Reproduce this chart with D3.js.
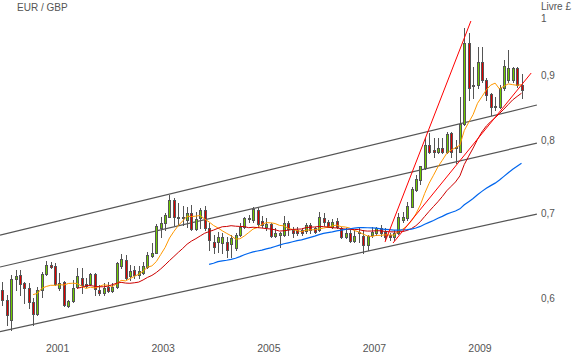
<!DOCTYPE html>
<html><head><meta charset="utf-8">
<script src="https://cdn.jsdelivr.net/npm/d3@7/dist/d3.min.js"></script>
<style>
body{margin:0;background:#fff}
svg{display:block}
text{font-family:"Liberation Sans",Arial,sans-serif;fill:#555}
</style>
</head><body>
<svg id="chart" width="582" height="357"></svg>
<script>
// Monthly EUR/GBP candles, Jan 2000 .. Nov 2009 (119 months)
const opens = [
.6088,.5978,.5763,.6211,.6257,.6166,.6110,.5956,.5827,.6088,.6268,.6372,
.6360,.6110,.6177,.5913,.5967,.6121,.6223,.6155,.6155,.6268,.6088,.6055,
.6121,.6077,.6121,.6360,.6430,.6245,.6314,.6257,.6283,.6352,.6477,.6516,
.6817,.6883,.6959,.7174,.6955,.6943,.6917,.7002,.6801,.6939,.7044,.6813,
.6649,.6649,.6629,.6649,.6617,.6569,.6730,.6833,.6943,.6917,.7044,.6905,
.6830,.6867,.6718,.6730,.6730,.6879,.6792,.6792,.6792,.6784,.6855,.6821,
.6792,.6939,.6896,.6833,.6905,.6813,.6702,.6751,.6661,.6751,.6718,.6609,
.6730,.6751,.6813,.6771,.6730,.6709,.6751,.6917,.6939,.7087,.7306,.7441,
.7601,.7931,.7859,.7827,.7884,.7835,.8103,.7907,.7835,.8242,.9554,.8849,
.8849,.9228,.8930,.8705,.8517,.8501,.8801,.8930,.8930,.9128,.8849];
const highs = [
.6177,.6033,.6257,.6314,.6314,.6177,.6166,.6000,.6121,.6291,.6419,.6407,
.6395,.6280,.6190,.5978,.6200,.6337,.6337,.6223,.6280,.6280,.6144,.6166,
.6177,.6166,.6407,.6500,.6489,.6372,.6360,.6360,.6407,.6525,.6633,.6867,
.6959,.7006,.7240,.7200,.7131,.7096,.7087,.7110,.7022,.7074,.7096,.6879,
.6730,.6771,.6751,.6709,.6730,.6751,.6875,.6959,.6985,.7087,.7066,.6968,
.6943,.6883,.6817,.6771,.6968,.6908,.6833,.6833,.6817,.6883,.6883,.6833,
.7022,.7002,.6917,.6930,.6943,.6833,.6817,.6792,.6792,.6833,.6792,.6730,
.6833,.6833,.6855,.6817,.6759,.6792,.7002,.7022,.7151,.7351,.7509,.7633,
.8029,.8103,.8029,.8029,.8029,.8126,.8126,.8004,.8657,.9819,.9730,.9145,
.9485,.9485,.8962,.8721,.8657,.8849,.9262,.9433,.9145,.9145,.9029];
const lows = [
.5924,.5711,.5659,.6088,.6033,.5946,.5892,.5711,.5817,.6011,.6257,.6337,
.6144,.6088,.5913,.5903,.5956,.6110,.6055,.6121,.6144,.6033,.6033,.6033,
.6066,.6066,.6110,.6337,.6211,.6200,.6223,.6223,.6268,.6337,.6466,.6513,
.6709,.6792,.6951,.6855,.6855,.6855,.6833,.6792,.6792,.6817,.6792,.6548,
.6513,.6528,.6509,.6470,.6470,.6548,.6722,.6813,.6896,.6896,.6833,.6830,
.6792,.6709,.6705,.6588,.6718,.6730,.6709,.6730,.6730,.6755,.6755,.6755,
.6784,.6855,.6826,.6817,.6817,.6690,.6690,.6649,.6649,.6649,.6516,.6548,
.6709,.6730,.6718,.6669,.6669,.6669,.6745,.6896,.6917,.7079,.7300,.7387,
.7587,.7812,.7756,.7812,.7812,.7812,.7756,.7671,.7827,.8227,.8610,.8641,
.8801,.8898,.8610,.8378,.8455,.8486,.8769,.8898,.8898,.8817,.8641];
const closes = [
.5978,.5817,.6211,.6245,.6155,.6110,.5956,.5827,.6088,.6268,.6372,.6349,
.6155,.6166,.5924,.5967,.6110,.6245,.6144,.6133,.6268,.6099,.6055,.6110,
.6077,.6121,.6395,.6442,.6223,.6303,.6257,.6306,.6360,.6489,.6516,.6842,
.6883,.6980,.7174,.6955,.6943,.6951,.7002,.6801,.6926,.7044,.6813,.6669,
.6588,.6709,.6709,.6548,.6690,.6730,.6833,.6939,.6930,.7057,.6863,.6855,
.6867,.6718,.6755,.6755,.6879,.6805,.6755,.6755,.6755,.6855,.6792,.6771,
.6959,.6896,.6833,.6896,.6826,.6702,.6751,.6661,.6718,.6771,.6609,.6718,
.6771,.6813,.6751,.6709,.6709,.6755,.6959,.6959,.7096,.7316,.7450,.7627,
.7931,.7835,.7835,.7884,.7835,.8092,.7835,.7884,.8242,.9554,.8801,.8833,
.9228,.8930,.8689,.8501,.8501,.8801,.9161,.9128,.9128,.8849,.8769];

const yearTickIdx = [12, 36, 60, 84, 108];
const yearLabels = ["2001", "2003", "2005", "2007", "2009"];
const priceTicks = [0.6, 0.7, 0.8, 0.9, 1];
const maPeriods = [8, 18, 48];            // orange, dark red, blue
// channel lines [startIndex, startValue, endIndex, endValue]
const channelLines = [
  [-0.52, 0.6730, 121.5, 0.8532],
  [-0.52, 0.6349, 121.5, 0.7960],
  [-0.52, 0.5642, 121.5, 0.6993]
];
const redTrendLines = [
  [86.98, 0.6645, 106.5, 0.9945],
  [88.80, 0.6633, 120.2, 0.9045]
];

const svg = d3.select("#chart");
const x = d3.scaleLinear().domain([0, 118]).range([2.3, 521.5]);
const y = d3.scaleLog().domain([0.6, 1]).range([298, 18]);

// channel lines
svg.append("g").selectAll("line").data(channelLines).join("line")
  .attr("x1", d => x(d[0])).attr("y1", d => y(d[1]))
  .attr("x2", d => x(d[2])).attr("y2", d => y(d[3]))
  .attr("stroke", "#555").attr("stroke-width", 1.2);

// candles
const idx = d3.range(opens.length);
const cg = svg.append("g");
cg.selectAll("line").data(idx).join("line")
  .attr("x1", i => Math.round(x(i)) + 0.5).attr("x2", i => Math.round(x(i)) + 0.5)
  .attr("y1", i => Math.round(y(highs[i]))).attr("y2", i => Math.round(y(lows[i])) + 1)
  .attr("stroke", "#555").attr("stroke-width", 1).attr("shape-rendering", "crispEdges");
cg.selectAll("rect").data(idx).join("rect")
  .attr("x", i => Math.round(x(i)) - 0.5).attr("width", 2)
  .attr("y", i => Math.round(y(Math.max(opens[i], closes[i]))) + 0.5)
  .attr("height", i => Math.max(1, Math.round(y(Math.min(opens[i], closes[i]))) - Math.round(y(Math.max(opens[i], closes[i])))))
  .attr("fill", i => closes[i] >= opens[i] ? "#6fcc00" : "#dd0000")
  .attr("stroke", "#555").attr("stroke-width", 1).attr("shape-rendering", "crispEdges");

// moving averages
function sma(n) {
  return idx.filter(i => i >= n - 1).map(i => [i, d3.mean(closes.slice(i - n + 1, i + 1))]);
}
const maColors = ["#ff9900", "#cc0000", "#0066ee"];
const maWidths = [1, 1, 1.2];
const line = d3.line().x(d => x(d[0])).y(d => y(d[1]));
maPeriods.forEach((n, k) => {
  svg.append("path").datum(sma(n)).attr("d", line)
    .attr("fill", "none").attr("stroke", maColors[k]).attr("stroke-width", maWidths[k]);
});

// red trend lines
svg.append("g").selectAll("line").data(redTrendLines).join("line")
  .attr("x1", d => x(d[0])).attr("y1", d => y(d[1]))
  .attr("x2", d => x(d[2])).attr("y2", d => y(d[3]))
  .attr("stroke", "#ff0000").attr("stroke-width", 1);

// axes
const fmt = d3.format(".1f");
const yAxis = d3.axisRight(y).tickValues(priceTicks).tickSize(0).tickPadding(0)
  .tickFormat(v => v === 1 ? "1" : fmt(v).replace(".", ","));
const ya = svg.append("g").attr("transform", "translate(541,0)").call(yAxis);
ya.select(".domain").remove();
ya.selectAll("text").attr("font-size", 10).attr("fill", "#555").attr("font-family", "Liberation Sans, Arial, sans-serif");

const xAxis = d3.axisBottom(x).tickValues(yearTickIdx).tickSize(0).tickPadding(0)
  .tickFormat((d, i) => yearLabels[i]);
const xa = svg.append("g").attr("transform", "translate(2,345)").call(xAxis);
xa.select(".domain").remove();
xa.selectAll("text").attr("font-size", 10.5).attr("fill", "#555").attr("font-family", "Liberation Sans, Arial, sans-serif");

svg.append("text").attr("x", 17).attr("y", 11).attr("font-size", 10).text("EUR / GBP");
svg.append("text").attr("x", 541).attr("y", 10).attr("font-size", 10).text("Livre £");
</script>
</body></html>
